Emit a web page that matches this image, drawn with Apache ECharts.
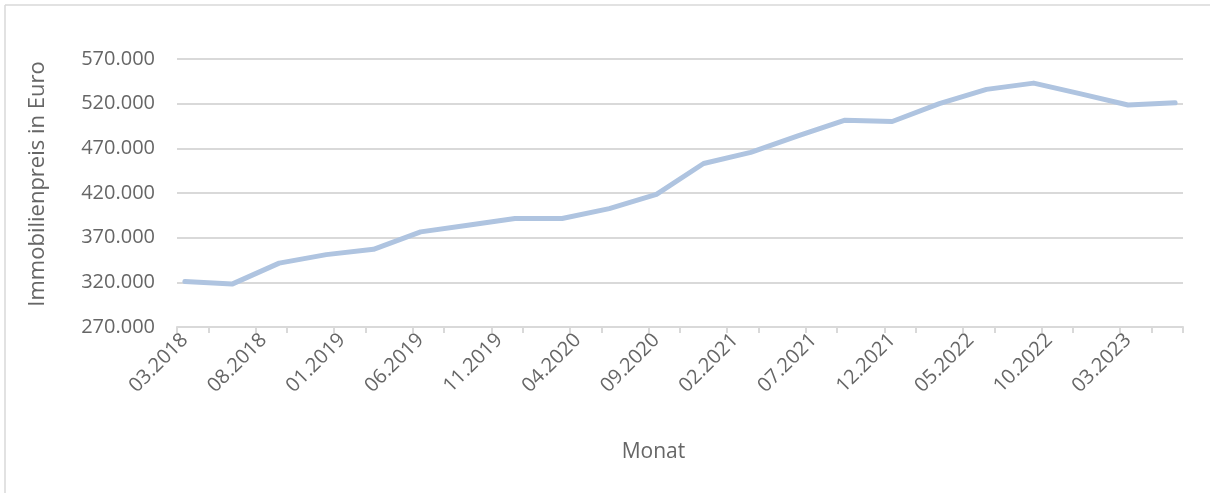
<!DOCTYPE html>
<html>
<head>
<meta charset="utf-8">
<script src="https://cdn.jsdelivr.net/npm/echarts@6/dist/echarts.min.js"></script>
<style>
html, body { margin: 0; padding: 0; background: #fff; }
#chart { width: 1210px; height: 493px; }
</style>
</head>
<body>
<div id="chart"></div>
<script>
// quarterly prices, drawn on a monthly axis like the Excel date axis
const quarters = ['03.2018', '06.2018', '09.2018', '12.2018', '03.2019', '06.2019', '09.2019', '12.2019',
    '03.2020', '06.2020', '09.2020', '12.2020', '03.2021', '06.2021', '09.2021', '12.2021',
    '03.2022', '06.2022', '09.2022', '12.2022', '03.2023', '06.2023'];
const prices = [321000, 318000, 341500, 351000, 357000, 376500, 384000, 391500,
    391500, 402500, 418500, 453000, 465500, 484000, 501500, 500000,
    520000, 536000, 543000, 531000, 518500, 521000];
const yMin = 270000;
const yMax = 570000;
const yStep = 50000;

// month categories 03.2018 .. 06.2023
const months = [];
for (let y = 2018, m = 3; months.length < 64; m++) {
    if (m > 12) { m = 1; y++; }
    months.push((m < 10 ? '0' : '') + m + '.' + y);
}
const lineData = months.map(function (c) {
    const i = quarters.indexOf(c);
    return i >= 0 ? prices[i] : null;
});

const textColor = '#666666';
const font = 'Open Sans';

const chart = echarts.init(document.getElementById('chart'));
chart.setOption({
    animation: false,
    // chart area border (only top and left are inside the picture)
    graphic: [{
        type: 'line',
        shape: { x1: 5, y1: 5, x2: 1210, y2: 5 },
        style: { stroke: '#d9d9d9', lineWidth: 1.5 }
    }, {
        type: 'line',
        shape: { x1: 5, y1: 5, x2: 5, y2: 493 },
        style: { stroke: '#d9d9d9', lineWidth: 1.5 }
    }],
    grid: {
        left: 177,
        right: 27,
        top: 59,
        bottom: 166
    },
    xAxis: {
        type: 'category',
        data: months,
        boundaryGap: true,
        name: 'Monat',
        nameLocation: 'middle',
        nameGap: 115,
        nameTextStyle: { color: textColor, fontFamily: font, fontSize: 21, padding: [0, 53, 0, 0] },
        axisLine: { lineStyle: { color: '#d9d9d9', width: 2 } },
        axisTick: {
            show: true,
            interval: function (i) { return i % 5 === 0 || i % 5 === 2; },
            length: 6,
            lineStyle: { color: '#d9d9d9', width: 2 }
        },
        axisLabel: {
            interval: 4,
            rotate: 45,
            margin: 10,
            color: textColor,
            fontFamily: font,
            fontSize: 20
        },
        splitLine: { show: false }
    },
    yAxis: {
        type: 'value',
        min: yMin,
        max: yMax,
        interval: yStep,
        name: 'Immobilienpreis in Euro',
        nameLocation: 'middle',
        nameRotate: 90,
        nameGap: 128,
        nameTextStyle: { color: textColor, fontFamily: font, fontSize: 22, padding: [0, 0, 0, 18] },
        axisLine: { show: false },
        axisTick: { show: false },
        axisLabel: {
            margin: 22,
            color: textColor,
            fontFamily: font,
            fontSize: 20,
            formatter: function (v) { return v.toLocaleString('de-DE'); }
        },
        splitLine: { lineStyle: { color: '#d9d9d9', width: 2 } }
    },
    series: [{
        type: 'line',
        data: lineData,
        connectNulls: true,
        showSymbol: false,
        symbol: 'none',
        lineStyle: { color: '#afc4e0', width: 5, cap: 'round', join: 'round' }
    }]
});
</script>
</body>
</html>
